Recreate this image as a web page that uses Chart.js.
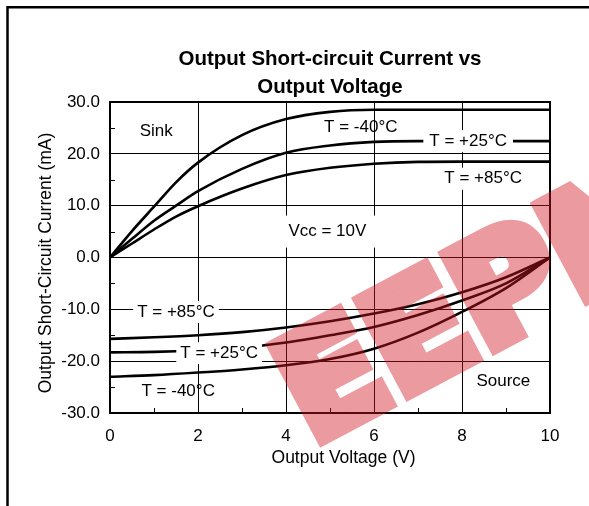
<!DOCTYPE html>
<html>
<head>
<meta charset="utf-8">
<script src="https://cdn.jsdelivr.net/npm/chart.js@4.4.1/dist/chart.umd.min.js"></script>
<style>
  body { margin: 0; background: #fff; }
  canvas { display: block; }
</style>
</head>
<body>
<canvas id="scChart" width="589" height="506"></canvas>
<script>
// sink side (positive current)
const sinkVolts = [0, 0.5, 1, 1.5, 2, 3, 4, 5, 6, 7, 8, 9, 10];
const sinkM40 = [0, 5.1, 9.8, 14.5, 18.3, 23.6, 26.7, 28.1, 28.5, 28.5, 28.5, 28.5, 28.5];
const sink25 = [0, 3.6, 7.1, 10.0, 12.8, 17.1, 20.2, 21.6, 22.3, 22.45, 22.45, 22.45, 22.45];
const sink85 = [0, 2.7, 5.4, 7.9, 9.9, 13.3, 15.9, 17.3, 18.1, 18.45, 18.5, 18.5, 18.5];

// source side (negative current)
const sourceVolts = [0, 1, 2, 3, 4, 5, 6, 7, 8, 9, 10];
const source85 = [-15.7, -15.4, -15.0, -14.4, -13.5, -12.3, -10.8, -9.0, -6.7, -3.8, 0];
const source25 = [-18.3, -18.2, -17.9, -17.4, -16.4, -15.0, -13.4, -11.1, -8.3, -5.0, 0];
const sourceM40 = [-23.0, -22.7, -22.2, -21.6, -20.8, -19.6, -17.6, -14.5, -10.5, -5.9, 0];

const xMinorTicks = [1, 3, 5, 7, 9];
const yMinorTicks = [25, 15, 5, -5, -15, -25];

// text labels placed in data coordinates
const notes = [
    { text: 'Sink', x: 1.05, y: 24.4, bg: false },
    { text: 'T = -40\u00B0C', x: 5.7, y: 25.2, bg: false },
    { text: 'T = +25\u00B0C', x: 8.14, y: 22.45, bg: true, padX: 6 },
    { text: 'T = +85\u00B0C', x: 8.48, y: 15.2, bg: true, padX: 5 },
    { text: 'Vcc = 10V', x: 4.94, y: 5.0, bg: true, padX: 9 },
    { text: 'T = +85\u00B0C', x: 1.5, y: -10.5, bg: true, padX: 4 },
    { text: 'T = +25\u00B0C', x: 2.48, y: -18.45, bg: true, padX: 4 },
    { text: 'T = -40\u00B0C', x: 1.55, y: -25.8, bg: false },
    { text: 'Source', x: 8.94, y: -23.9, bg: false }
];

const FONT = 'Liberation Sans, Arial, sans-serif';

function pts(xs, ys) {
    return xs.map((x, i) => ({ x: x, y: ys[i] }));
}

function curve(xs, ys) {
    return {
        data: pts(xs, ys),
        borderColor: '#000',
        borderWidth: 2.6,
        pointRadius: 0,
        fill: false,
        cubicInterpolationMode: 'monotone'
    };
}

// watermark drawn opaque on its own canvas, then blended once
function watermark(w, h) {
    const off = document.createElement('canvas');
    off.width = w;
    off.height = h;
    const o = off.getContext('2d');
    o.translate(311.5, 444.6);
    o.rotate(-28 * Math.PI / 180);
    o.font = 'bold 143px DejaVu Sans, sans-serif';
    o.textBaseline = 'alphabetic';
    o.fillStyle = 'rgb(209, 23, 35)';
    o.strokeStyle = 'rgb(209, 23, 35)';
    o.lineWidth = 14;
    o.lineJoin = 'miter';
    o.fillText('EEPM', 0, 0);
    o.strokeText('EEPM', 0, 0);
    return off;
}

const decor = {
    id: 'decor',
    beforeDraw(chart) {
        const c = chart.ctx;
        c.save();
        c.fillStyle = '#fff';
        c.fillRect(0, 0, chart.width, chart.height);
        c.restore();
    },
    afterDraw(chart) {
        const c = chart.ctx;
        const a = chart.chartArea;
        const xs = chart.scales.x;
        const ys = chart.scales.y;
        c.save();

        // labels
        c.font = '17px ' + FONT;
        c.textAlign = 'center';
        c.textBaseline = 'middle';
        notes.forEach(n => {
            const px = xs.getPixelForValue(n.x);
            const py = ys.getPixelForValue(n.y);
            if (n.bg) {
                const w = c.measureText(n.text).width + 2 * n.padX;
                const h = n.text.startsWith('Vcc') ? 32 : 22;
                c.fillStyle = '#fff';
                c.fillRect(px - w / 2, py - h / 2, w, h);
            }
            c.fillStyle = '#000';
            c.fillText(n.text, px, py);
        });

        // minor ticks
        c.strokeStyle = '#000';
        c.lineWidth = 1;
        c.beginPath();
        xMinorTicks.forEach(v => {
            const px = Math.round(xs.getPixelForValue(v)) + 0.5;
            c.moveTo(px, a.bottom);
            c.lineTo(px, a.bottom - 5);
        });
        yMinorTicks.forEach(v => {
            const py = Math.round(ys.getPixelForValue(v)) + 0.5;
            c.moveTo(a.left, py);
            c.lineTo(a.left + 5, py);
        });
        c.stroke();

        // plot frame
        c.lineWidth = 2;
        c.strokeRect(a.left, a.top, a.right - a.left, a.bottom - a.top);

        // outer frame (top and left only)
        c.lineWidth = 2.5;
        c.beginPath();
        c.moveTo(7.5, chart.height);
        c.lineTo(7.5, 7.3);
        c.lineTo(chart.width, 7.3);
        c.stroke();

        // title
        c.fillStyle = '#000';
        c.textBaseline = 'alphabetic';
        c.font = 'bold 20.5px ' + FONT;
        const cx = (a.left + a.right) / 2;
        c.fillText('Output Short-circuit Current vs', cx, 65);
        c.fillText('Output Voltage', cx, 93);

        // axis titles
        c.font = '17.5px ' + FONT;
        c.fillText('Output Voltage (V)', 343.5, 463);
        c.translate(50.5, 263);
        c.rotate(-Math.PI / 2);
        c.fillText('Output Short-Circuit Current (mA)', 0, 0);
        c.restore();

        c.save();
        c.globalAlpha = 0.43;
        c.drawImage(watermark(chart.width, chart.height), 0, 0);
        c.restore();
    }
};

const chart = new Chart(document.getElementById('scChart'), {
    type: 'line',
    data: {
        datasets: [
            curve(sinkVolts, sinkM40),
            curve(sinkVolts, sink25),
            curve(sinkVolts, sink85),
            curve(sourceVolts, source85),
            curve(sourceVolts, source25),
            curve(sourceVolts, sourceM40)
        ]
    },
    options: {
        responsive: false,
        animation: false,
        layout: {
            padding: { top: 102, right: 39, left: 0, bottom: 0 }
        },
        plugins: {
            legend: { display: false },
            tooltip: { enabled: false }
        },
        scales: {
            x: {
                type: 'linear',
                min: 0,
                max: 10,
                afterFit(s) { s.height = 93; },
                ticks: {
                    stepSize: 2,
                    color: '#000',
                    padding: 13,
                    font: { family: FONT, size: 17 }
                },
                grid: { color: '#000', lineWidth: 1, drawTicks: false },
                border: { display: false }
            },
            y: {
                min: -30,
                max: 30,
                afterFit(s) { s.width = 110; },
                ticks: {
                    stepSize: 10,
                    color: '#000',
                    padding: 10,
                    font: { family: FONT, size: 17 },
                    callback: v => v.toFixed(1)
                },
                grid: { color: '#000', lineWidth: 1, drawTicks: false },
                border: { display: false }
            }
        }
    },
    plugins: [decor]
});
</script>
</body>
</html>
